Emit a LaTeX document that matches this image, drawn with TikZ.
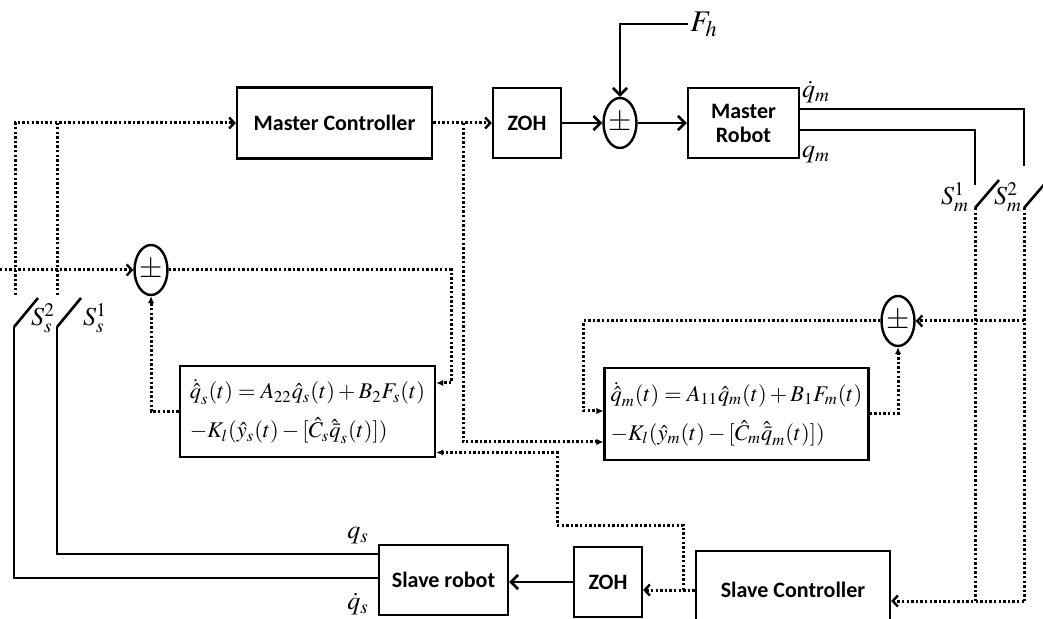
\documentclass[tikz,border=0pt]{standalone}
\usepackage{mathptmx}
\usepackage[no-math]{fontspec}
\setmainfont{Liberation Serif}
\setsansfont{Carlito}
\usetikzlibrary{arrows.meta,positioning,shapes.geometric,calc}
\tikzset{
  every node/.style={font=\fontsize{11}{13}\selectfont},
  box/.style={draw,line width=1.2pt,align=center,inner sep=2pt,font=\sffamily\bfseries\fontsize{11}{12}\selectfont},
  eqbox/.style={draw,line width=1.2pt,align=left,inner sep=3pt,font=\fontsize{11.2}{19.5}\selectfont},
  sumnode/.style={draw,ellipse,line width=1.2pt,minimum width=16pt,minimum height=25pt,inner sep=0pt,font=\fontsize{15}{15}\selectfont},
  sigline/.style={line width=1.3pt},
  dotline/.style={line width=1.5pt,dash pattern=on 1.2pt off 1.1pt},
  barb/.style={-{Straight Barb[length=3.5pt,width=7pt]}},
  dbarb/.style={-{Straight Barb[length=2.5pt,width=5.5pt,line width=1.2pt]}},
  tri/.style={-{Latex[length=3.5pt,width=3.2pt]}},
  lbl/.style={inner sep=1pt,font=\fontsize{13}{15}\selectfont},
}

\begin{document}
\begin{tikzpicture}[x=0.5pt,y=-0.5pt]
\fill[white] (0,0) rectangle (1043,619);
\useasboundingbox (0,0) rectangle (1043,619);

% master side
\node[box,minimum width=97.5pt,minimum height=35.5pt] (mc) at (334.5,123) {Master Controller};
\node[box,minimum width=34pt,minimum height=35pt] (zohm) at (527,123) {ZOH};
\node[sumnode] (summ) at (620,123) {$\pm$};
\node[box,minimum width=55.5pt,minimum height=35pt] (mr) at (743.5,123) {Master\\Robot};
\node[lbl,font=\fontsize{15}{17}\selectfont] (fh) at (704,24) {$F_h$};
\draw[dotline,dbarb] (mc.east) -- (zohm.west);
\draw[sigline,barb] (zohm.east) -- (summ.west);
\draw[sigline,barb] (summ.east) -- (mr.west);
\draw[sigline,barb] (fh.west) -| (summ.north);

% master robot outputs and switches
\coordinate (sm1) at (975,185);
\coordinate (sm2) at (1024,166);
\coordinate (sm1b) at (975,208);
\coordinate (sm2b) at (1024,208);
\draw[sigline] ([yshift=7pt]mr.east) -| (sm2);
\draw[sigline] ([yshift=-3.5pt]mr.east) -| (sm1);
\draw[sigline] (sm1b) -- ++(24,-28);
\draw[sigline] (sm2b) -- ++(24,-28);
\node[lbl] (lqmd) at (816,92) {$\dot q_m$};
\node[lbl] (lqm) at (816,155) {$q_m$};
\node[lbl] (lsm1) at (955,197) {$S_m^1$};
\node[lbl] (lsm2) at (1008,197) {$S_m^2$};

% observers and sums
\node[sumnode] (sums) at (151,270) {$\pm$};
\node[sumnode] (sumo) at (898,321) {$\pm$};
\node[eqbox,minimum width=127.5pt,minimum height=45.5pt] (obss) at (307.5,411.5)
{$\dot{\hat q}_s(t)=A_{22}\hat q_s(t)+B_2F_s(t)$\\$-K_l(\hat y_s(t)-[\hat C_s\hat{\bar q}_s(t)])$};
\node[eqbox,minimum width=128.5pt,minimum height=46pt] (obsm) at (736.5,414)
{$\dot{\hat q}_m(t)=A_{11}\hat q_m(t)+B_1F_m(t)$\\$-K_l(\hat y_m(t)-[\hat C_m\hat{\bar q}_m(t)])$};

% slave side
\node[box,minimum width=64.5pt,minimum height=35pt] (sr) at (443.5,580) {Slave robot};
\node[box,minimum width=34pt,minimum height=35pt] (zohs) at (608,582) {ZOH};
\node[box,minimum width=97pt,minimum height=39pt] (sc) at (793,590) {Slave Controller};
\node[lbl] (lqs) at (358,536) {$q_s$};
\node[lbl] (lqsd) at (358,604) {$\dot q_s$};
\node[lbl] (lss2) at (43,318) {$S_s^2$};
\node[lbl] (lss1) at (95,318) {$S_s^1$};

% right dotted bus
\coordinate (scin) at (1024,601);
\draw[dotline] (sm2b) -- (scin);
\draw[dotline,dbarb] (scin) -- (sc.east |- scin);
\draw[dotline] (sm1b) -- (sm1b |- scin);
\draw[dotline,dbarb] (sm2b |- sumo) -- (sumo.east);

% master observer loop
\coordinate (bm) at (463,123);
\draw[dotline,tri] (sumo.west) -| ([xshift=-10pt,yshift=1.5pt]obsm.west) -- ([yshift=1.5pt]obsm.west);
\draw[dotline,tri] (obsm.east) -| (sumo.south);
\draw[dotline,tri] (bm) |- ([yshift=-14pt]obsm.west);

% slave observer loop
\draw[dotline,tri] (sums.east) -| ([xshift=7.5pt,yshift=14.25pt]obss.east) -- ([yshift=14.25pt]obss.east);
\draw[dotline,tri] (obss.west) -| (sums.south);
\coordinate (bs) at (683,590);
\coordinate (kb) at (557,525);
\draw[dotline,dbarb] (sc.west) -- (sc.west -| zohs.east);
\draw[dotline,tri] (bs) |- (kb) |- ([yshift=-20.5pt]obss.east);
\draw[sigline,barb] (zohs.west) -- (zohs.west -| sr.east);

% slave switches
\coordinate (ss2t) at (15,295);
\coordinate (ss1t) at (57,295);
\coordinate (ss2b) at (14,327);
\coordinate (ss1b) at (57,327);
\coordinate (lin) at (0,270);
\draw[dotline,dbarb] (ss2t) |- (mc.west);
\draw[dotline] (ss1t) -- (ss1t |- mc.west);
\draw[dotline,dbarb] (lin) -- (sums.west);
\draw[sigline] (ss2b) -- ++(24,-29);
\draw[sigline] (ss1b) -- ++(24,-29);
\draw[sigline] (ss2b) |- ([yshift=1pt]sr.west);
\draw[sigline] (ss1b) |- ([yshift=13pt]sr.west);

\end{tikzpicture}
\end{document}
